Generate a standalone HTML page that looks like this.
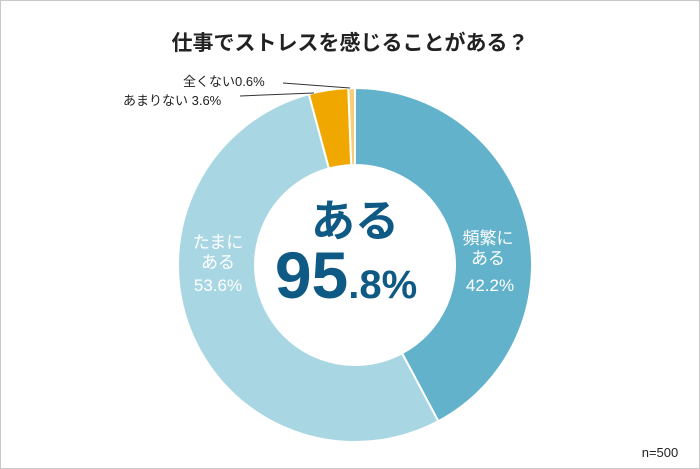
<!DOCTYPE html>
<html><head><meta charset="utf-8"><style>
body{margin:0;background:#fff}
#c{position:relative;width:700px;height:469px;box-sizing:border-box;border:1px solid #c8c8c8;font-family:"Liberation Sans","Noto Sans CJK JP",sans-serif}
</style></head><body>
<div id="c">
<svg width="700" height="469" style="position:absolute;left:-1px;top:-1px" id="svg">
<text x="350" y="50" text-anchor="middle" font-size="21" font-weight="bold" fill="#222">仕事でストレスを感じることがある？</text>
<g id="slices"></g>
<text x="355" y="236" text-anchor="middle" font-size="44" font-weight="bold" fill="#0e5a85">ある</text>
<text x="346" y="298" text-anchor="middle" fill="#0e5a85" font-weight="bold"><tspan font-size="66">95</tspan><tspan font-size="40">.8%</tspan></text>
<g fill="#fff" font-size="17" text-anchor="middle">
<text x="488" y="244">頻繁に</text>
<text x="488" y="264">ある</text>
<text x="490" y="291">42.2%</text>
<text x="218" y="248">たまに</text>
<text x="218" y="268">ある</text>
<text x="218" y="291">53.6%</text>
</g>
<line x1="283" y1="83" x2="350" y2="88" stroke="#333" stroke-width="1"/>
<line x1="240" y1="96" x2="314" y2="93" stroke="#333" stroke-width="1"/>
<text x="183" y="86" font-size="13" fill="#222">全くない0.6%</text>
<text x="123" y="105" font-size="13" fill="#222">あまりない 3.6%</text>
<text x="660" y="457" font-size="13" fill="#222" text-anchor="middle">n=500</text>
</svg>
</div>
<script>
const categories=["頻繁にある","たまにある","あまりない","全くない"];
const values=[42.2,53.6,3.6,0.6];
const colors=["#62b2cb","#a8d7e3","#f0a800","#f5d07a"];
const cx=355,cy=265,R=177,r=100;
const g=document.getElementById('slices');
const total=values.reduce((a,b)=>a+b,0);
function pt(a,rad){return [cx+rad*Math.sin(a),cy-rad*Math.cos(a)];}
let acc=0;
values.forEach((v,i)=>{
 const a0=acc/total*2*Math.PI;acc+=v;const a1=acc/total*2*Math.PI;
 const lg=(a1-a0)>Math.PI?1:0;
 const p0=pt(a0,R),p1=pt(a1,R),q1=pt(a1,r),q0=pt(a0,r);
 const p=document.createElementNS('http://www.w3.org/2000/svg','path');
 p.setAttribute('d',`M${p0[0]},${p0[1]}A${R},${R} 0 ${lg} 1 ${p1[0]},${p1[1]}L${q1[0]},${q1[1]}A${r},${r} 0 ${lg} 0 ${q0[0]},${q0[1]}Z`);
 p.setAttribute('fill',colors[i]);p.setAttribute('stroke','#fff');p.setAttribute('stroke-width','2');
 
 
 g.appendChild(p);
});
</script>
</body></html>
